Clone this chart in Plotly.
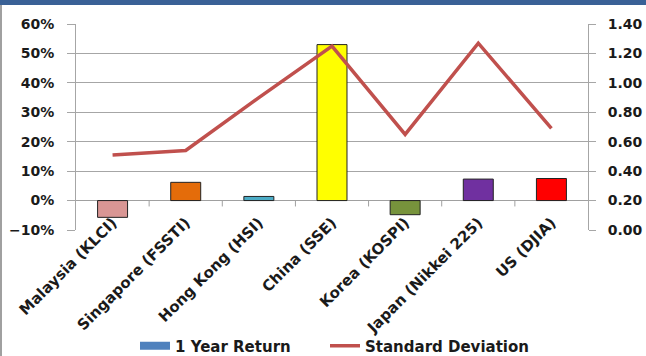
import plotly.graph_objects as go

categories = ["Malaysia (KLCI)", "Singapore (FSSTI)", "Hong Kong (HSI)", "China (SSE)",
              "Korea (KOSPI)", "Japan (Nikkei 225)", "US (DJIA)"]
one_year_return = [-0.057, 0.062, 0.014, 0.530, -0.048, 0.073, 0.075]
std_dev = [0.51, 0.54, 0.90, 1.25, 0.65, 1.27, 0.69]
bar_colors = ["#D99694", "#E46C0A", "#4BACC6", "#FFFF00", "#77933C", "#7030A0", "#FF0000"]
left_ticks = [-0.1, 0.0, 0.1, 0.2, 0.3, 0.4, 0.5, 0.6]
right_ticks = [0.0, 0.2, 0.4, 0.6, 0.8, 1.0, 1.2, 1.4]

FONT = "DejaVu Sans"
W, H = 646, 356
ML, MR, MT, MB = 76, 58, 24, 126
PW, PH = W - ML - MR, H - MT - MB

fig = go.Figure()
fig.add_trace(go.Bar(
    x=categories, y=one_year_return, width=0.41,
    marker=dict(color=bar_colors, line=dict(color="#222222", width=1)),
    showlegend=False, hoverinfo="skip"))
fig.add_trace(go.Scatter(
    x=categories, y=[None] * len(categories), name="1 Year Return", mode="lines",
    line=dict(color="#4F81BD", width=8), legend="legend"))
fig.add_trace(go.Scatter(
    x=categories, y=std_dev, yaxis="y2", mode="lines", name="Standard Deviation",
    line=dict(color="#C0504D", width=3.5), legend="legend2"))

shapes = []
# category boundary tick marks on the zero line
for k in range(len(categories) - 1):
    shapes.append(dict(type="line", xref="x", yref="y", x0=k + 0.5, x1=k + 0.5,
                       y0=0, y1=-0.02, line=dict(color="#A0A0A0", width=1)))
# frame decorations: top blue band and left grey border
shapes.append(dict(type="rect", xref="paper", yref="paper", layer="above",
                   x0=-ML / PW, x1=1 + MR / PW, y0=1 + (MT - 5) / PH, y1=1 + MT / PH,
                   fillcolor="#3A6196", line=dict(width=0)))
shapes.append(dict(type="rect", xref="paper", yref="paper", layer="above",
                   x0=-ML / PW, x1=(2 - ML) / PW, y0=-MB / PH, y1=1 + (MT - 5) / PH,
                   fillcolor="#A0A0A0", line=dict(width=0)))

tick_font = dict(family=FONT, size=14, color="#1a1a1a", weight="bold")
cat_font = dict(family=FONT, size=15, color="#1a1a1a", weight="bold")
leg_font = dict(family=FONT, size=15, color="#1a1a1a", weight="bold")

legend_common = dict(orientation="h", xref="container", yref="container",
                     y=1 - 346 / H, yanchor="middle", xanchor="left",
                     bgcolor="rgba(0,0,0,0)", font=leg_font)

fig.update_layout(
    width=W, height=H,
    margin=dict(l=ML, r=MR, t=MT, b=MB, autoexpand=False),
    paper_bgcolor="white", plot_bgcolor="white",
    barmode="overlay",
    shapes=shapes,
    xaxis=dict(type="category", tickangle=-45, tickfont=cat_font, showgrid=False,
               showline=False, ticks="", automargin=False, ticklabelstandoff=-20,
               range=[-0.5, len(categories) - 0.5]),
    yaxis=dict(range=[-0.1, 0.6], tickvals=left_ticks, tickformat=".0%",
               tickfont=tick_font, showgrid=True, gridcolor="#A6A6A6", gridwidth=1,
               zeroline=True, zerolinecolor="#A0A0A0", zerolinewidth=1,
               showline=True, linecolor="#A6A6A6", linewidth=1, automargin=False,
               ticks="outside", ticklen=8, tickcolor="#A6A6A6", ticklabelstandoff=10),
    yaxis2=dict(range=[0, 1.4], tickvals=right_ticks, tickformat=".2f", overlaying="y",
                side="right", tickfont=tick_font, showgrid=False, zeroline=False,
                showline=True, linecolor="#A6A6A6", linewidth=1, automargin=False,
                ticks="outside", ticklen=7, tickcolor="#A6A6A6", ticklabelstandoff=9),
    legend=dict(legend_common, x=135 / W),
    legend2=dict(legend_common, x=325 / W),
)

fig.write_html("out.html")
